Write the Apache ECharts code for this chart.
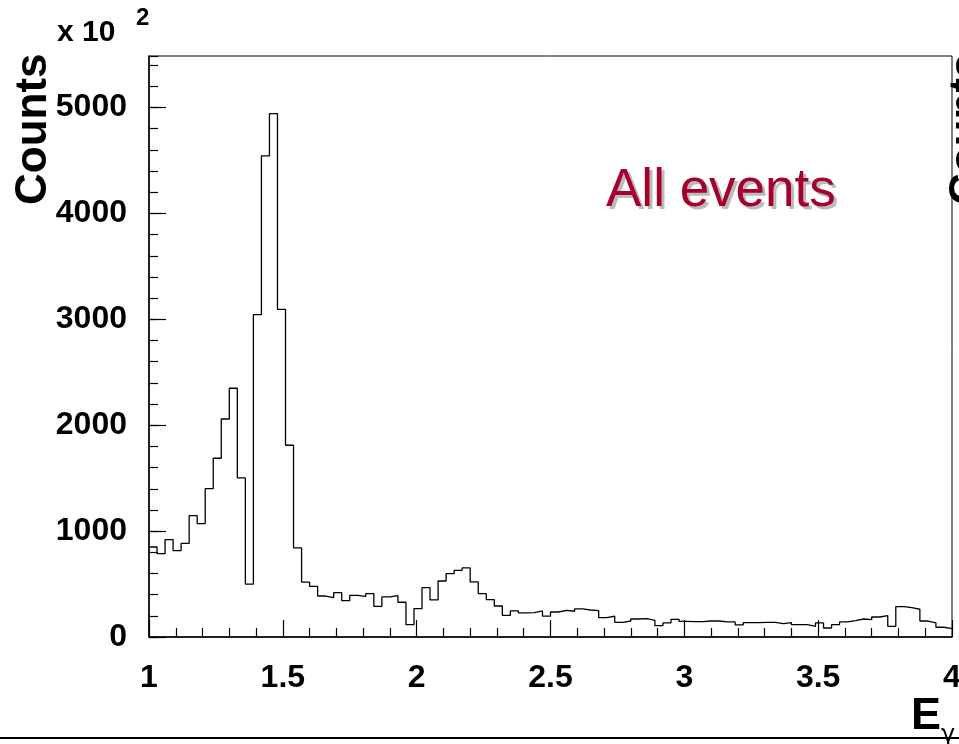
<!DOCTYPE html>
<html>
<head>
<meta charset="utf-8">
<script src="https://cdn.jsdelivr.net/npm/echarts@6/dist/echarts.min.js"></script>
<style>
  html, body { margin: 0; padding: 0; background: #fff; }
  #chart { width: 959px; height: 744px; }
</style>
</head>
<body>
<div id="chart"></div>
<script>
// histogram of photon energy, 100 bins from 1 to 4 (units of 10^2 counts)
const xMin = 1
const xMax = 4
const binWidth = 0.03
const counts = [
  850, 787, 920, 816, 885, 1146, 1071, 1401, 1688, 2059,
  2349, 1502, 500, 3045, 4543, 4943, 3095, 1811, 841, 519,
  479, 387, 372, 419, 343, 394, 384, 410, 290, 378,
  391, 328, 117, 268, 466, 350, 529, 598, 630, 652,
  520, 410, 353, 293, 205, 246, 227, 230, 246, 197,
  236, 252, 243, 265, 255, 249, 183, 196, 139, 151,
  170, 173, 158, 107, 133, 167, 148, 145, 145, 151,
  151, 142, 142, 114, 136, 136, 139, 139, 126, 136,
  117, 117, 101, 133, 85, 117, 142, 155, 170, 164,
  189, 202, 101, 287, 277, 262, 151, 133, 92, 79
]
const yMax = 5487
const labelText = 'All events'

// step points at the left edge of each bin, plus closing point at xMax
const histData = counts.map((v, i) => [xMin + i * binWidth, v])
histData.push([xMax, counts[counts.length - 1]])

const chart = echarts.init(document.getElementById('chart'))
const labelFont = { color: '#000', fontWeight: 'bold', fontSize: 32, fontFamily: 'Liberation Sans, Arial, sans-serif' }

const option = {
  animation: false,
  backgroundColor: '#fff',
  grid: {
    left: 149, right: 7, top: 56, bottom: 107,
    outerBoundsMode: 'none',
    containLabel: false,
    show: true, borderColor: '#000', borderWidth: 1, backgroundColor: 'transparent'
  },
  xAxis: {
    type: 'value', min: xMin, max: xMax, interval: 0.5,
    axisLine: { lineStyle: { color: '#000', width: 1.5 } },
    axisTick: { inside: true, length: 17, lineStyle: { color: '#000', width: 1.2 } },
    minorTick: { show: true, splitNumber: 5, length: 9, lineStyle: { color: '#000', width: 1.2 } },
    splitLine: { show: false },
    axisLabel: Object.assign({ margin: 25, formatter: v => String(v) }, labelFont)
  },
  yAxis: [
    {
      type: 'value', min: 0, max: yMax, interval: 1000,
      axisLine: { show: true, lineStyle: { color: '#000', width: 1.5 } },
      axisTick: { inside: true, length: 17, lineStyle: { color: '#000', width: 1.2 } },
      splitLine: { show: false },
      axisLabel: Object.assign({ margin: 22, showMaxLabel: false, formatter: v => String(v) }, labelFont)
    },
    {
      type: 'value', min: 0, max: yMax, interval: 200, position: 'left',
      alignTicks: false,
      axisLine: { show: false },
      axisTick: { show: true, inside: true, length: 9, lineStyle: { color: '#000', width: 1.2 } },
      splitLine: { show: false },
      axisLabel: { show: false }
    }
  ],
  series: [{
    type: 'line',
    step: 'end',
    data: histData,
    symbol: 'none',
    lineStyle: { color: '#000', width: 1.3 },
    silent: true
  }],
  graphic: [
    {
      type: 'text', x: 12, y: 205, rotation: Math.PI / 2,
      style: { text: 'Counts', fill: '#000', font: 'bold 44px Liberation Sans, Arial, sans-serif' }
    },
    {
      type: 'text', x: 57, y: 18,
      style: { text: 'x 10', fill: '#000', font: 'bold 30px Liberation Sans, Arial, sans-serif' }
    },
    {
      type: 'text', x: 136, y: 6,
      style: { text: '2', fill: '#000', font: 'bold 24px Liberation Sans, Arial, sans-serif' }
    },
    {
      type: 'text', x: 946, y: 205, rotation: Math.PI / 2,
      style: { text: 'Counts', fill: '#000', font: 'bold 44px Liberation Sans, Arial, sans-serif' }
    },
    {
      type: 'text', x: 609, y: 168,
      style: { text: labelText, fill: '#bbbbbb', font: '53px Liberation Sans, Arial, sans-serif' }
    },
    {
      type: 'text', x: 606, y: 165,
      style: { text: labelText, fill: '#a6002c', font: '53px Liberation Sans, Arial, sans-serif' }
    },
    {
      type: 'text', x: 911, y: 694,
      style: { text: 'E', fill: '#000', font: 'bold 45px Liberation Sans, Arial, sans-serif' }
    },
    {
      type: 'text', x: 941, y: 724,
      style: { text: 'γ', fill: '#000', font: '24px DejaVu Sans, sans-serif' }
    },
    {
      type: 'line', shape: { x1: 0, y1: 738, x2: 959, y2: 738 },
      style: { stroke: '#000', lineWidth: 2 }
    }
  ]
}

chart.setOption(option)

window.addEventListener('resize', () => {
  chart.resize()
})
</script>
</body>
</html>
